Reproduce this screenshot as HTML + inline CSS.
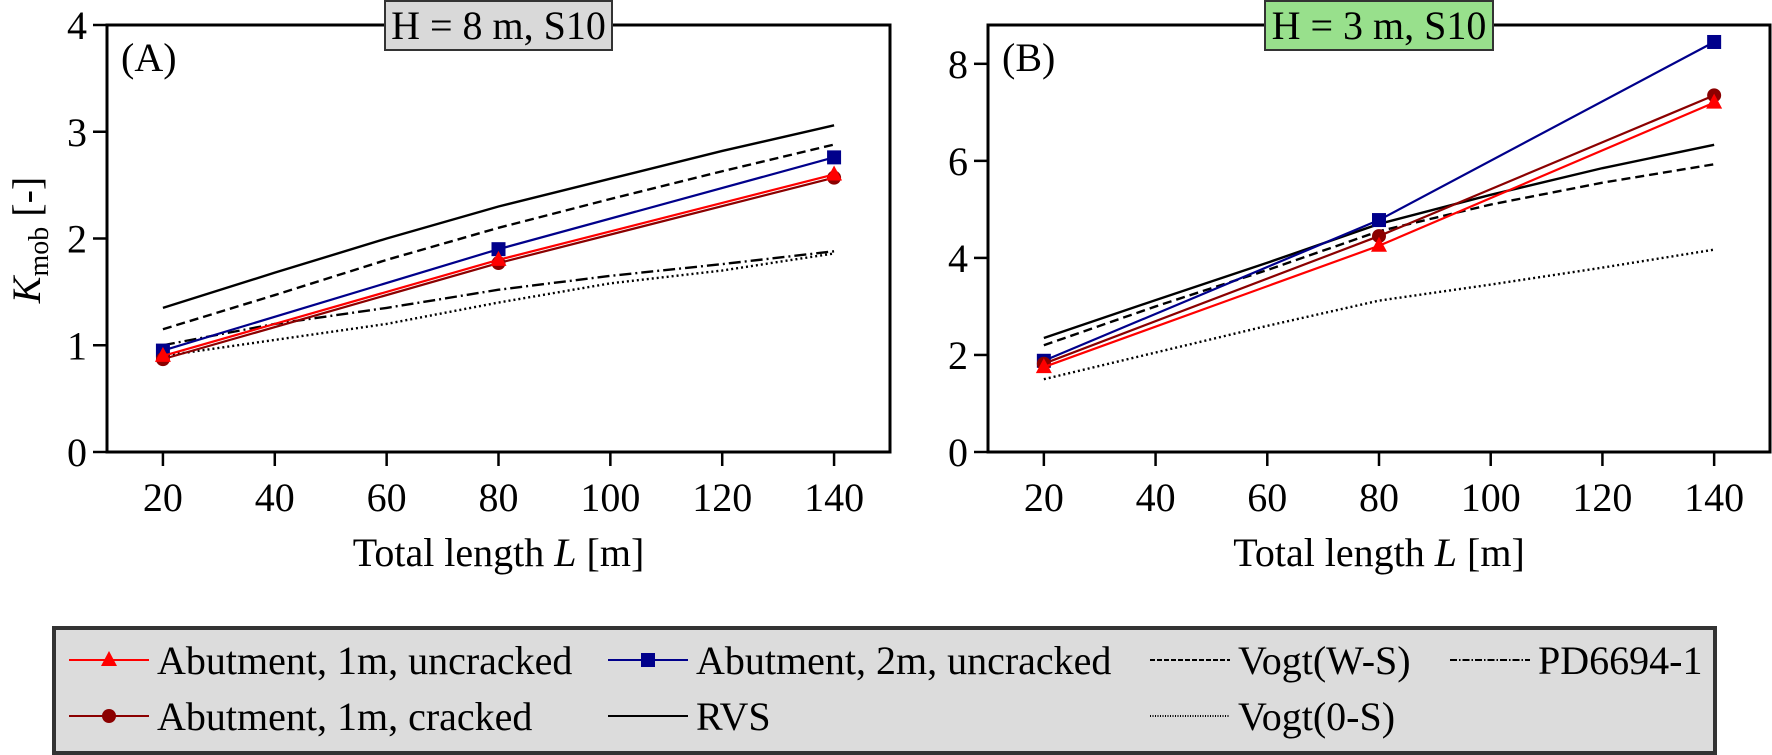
<!DOCTYPE html>
<html><head><meta charset="utf-8">
<style>
html,body{margin:0;padding:0;background:#fff;}
svg, svg text{font-family:"Liberation Serif","Times New Roman",serif;}
svg{display:block;}
</style></head>
<body>
<svg id="chart" width="1772" height="755" viewBox="0 0 1772 755" font-family="Liberation Serif, serif">
<g id="gA"></g>
<g id="gB"></g>
<g id="legend"></g>
</svg>
<script>
const xTicks = [20,40,60,80,100,120,140];
const curveX = [20,40,60,80,100,120,140];
const ptsX = [20,80,140];
const yTicksA = [0,1,2,3,4];
const yTicksB = [0,2,4,6,8];
// Panel A
const A_rvs = [1.35,1.68,2.0,2.3,2.56,2.82,3.06];
const A_vogtWS = [1.15,1.47,1.8,2.1,2.37,2.63,2.88];
const A_pd = [1.0,1.2,1.35,1.52,1.65,1.76,1.88];
const A_vogt0S = [0.9,1.05,1.2,1.4,1.58,1.7,1.86];
const A_ab1u = [0.9,1.8,2.6];
const A_ab1c = [0.87,1.77,2.57];
const A_ab2u = [0.95,1.9,2.76];
// Panel B
const B_rvs = [2.35,3.13,3.9,4.7,5.3,5.85,6.33];
const B_vogtWS = [2.2,3.0,3.75,4.55,5.1,5.55,5.93];
const B_vogt0S = [1.5,2.05,2.6,3.12,3.45,3.8,4.17];
const B_ab1u = [1.75,4.25,7.2];
const B_ab1c = [1.82,4.45,7.35];
const B_ab2u = [1.88,4.78,8.45];

const NS="http://www.w3.org/2000/svg";
const FF='Liberation Serif, serif';
const FS=40;
function mk(tag, attrs, parent){const e=document.createElementNS(NS,tag);for(const k in attrs)e.setAttribute(k,attrs[k]);if(tag==='text')e.setAttribute('font-family',FF);parent.appendChild(e);return e;}

function panel(g, cfg){
  const sx = v => cfg.x0 + (v-10)/(140)*(cfg.x1-cfg.x0);
  const sy = v => cfg.yb - (v-cfg.ymin)/(cfg.ymax-cfg.ymin)*(cfg.yb-cfg.yt);
  const clip = mk('clipPath',{id:cfg.id+'clip'},g);
  mk('rect',{x:cfg.x0,y:cfg.yt,width:cfg.x1-cfg.x0,height:cfg.yb-cfg.yt},clip);
  const plot = mk('g',{'clip-path':'url(#'+cfg.id+'clip)'},g);
  
  
  function line(xs, ys, color, dash, w, name){
    const p = mk('polyline',{points:xs.map((x,i)=>sx(x)+','+sy(ys[i])).join(' '),fill:'none',stroke:color,'stroke-width':w},plot);
    if(dash) p.setAttribute('stroke-dasharray',dash);
    
    
  }
  cfg.curves.forEach(c=>line(curveX,c.v,'#000',c.dash,2.4,c.name));
  cfg.pts.forEach(c=>{
    line(ptsX,c.v,c.color,null,2.2,c.name);
    ptsX.forEach((x,i)=>{
      const cx=sx(x), cy=sy(c.v[i]); let m;
      if(c.marker==='tri') m=mk('polygon',{points:`${cx},${cy-9} ${cx-8},${cy+6} ${cx+8},${cy+6}`,fill:c.color},plot);
      else if(c.marker==='sq') m=mk('rect',{x:cx-7,y:cy-7,width:14,height:14,fill:c.color},plot);
      else m=mk('circle',{cx:cx,cy:cy,r:7,fill:c.color},plot);
      
      
    });
  });
  const frame = mk('rect',{x:cfg.x0,y:cfg.yt,width:cfg.x1-cfg.x0,height:cfg.yb-cfg.yt,fill:'none',stroke:'#000','stroke-width':3},g);
  
  
  xTicks.forEach(t=>{
    mk('line',{x1:sx(t),x2:sx(t),y1:cfg.yb,y2:cfg.yb+14,stroke:'#000','stroke-width':2.5},g);
    const tx = mk('text',{x:sx(t),y:cfg.yb+59,'text-anchor':'middle','font-size':FS},g);
    tx.textContent=t;
    
    
  });
  cfg.yTicks.forEach(t=>{
    mk('line',{x1:cfg.x0-14,x2:cfg.x0,y1:sy(t),y2:sy(t),stroke:'#000','stroke-width':2.5},g);
    const tx = mk('text',{x:cfg.x0-20,y:sy(t)+14,'text-anchor':'end','font-size':FS},g);
    tx.textContent=t;
    
    
  });
  const xl = mk('text',{x:(cfg.x0+cfg.x1)/2,y:566,'text-anchor':'middle','font-size':FS},g);
  xl.innerHTML='Total length <tspan font-style="italic">L</tspan> [m]';
  
  
  const pl = mk('text',{x:cfg.x0+14,y:71,'font-size':FS},g);
  pl.textContent=cfg.label;
  
  
  const tb = mk('rect',{x:cfg.tx0,y:1,width:cfg.tx1-cfg.tx0,height:49,fill:cfg.tcol,stroke:'#333','stroke-width':2},g);
  
  
  const tt = mk('text',{x:(cfg.tx0+cfg.tx1)/2,y:39,'text-anchor':'middle','font-size':FS},g);
  tt.textContent=cfg.title;
  
  
}

panel(document.getElementById('gA'),{id:'A',x0:107,x1:890,yt:25,yb:452,ymin:0,ymax:4,yTicks:yTicksA,label:'(A)',title:'H = 8 m, S10',tx0:385,tx1:612,tcol:'#d9d9d9',
  curves:[{v:A_rvs,dash:null,name:'rvs-line'},{v:A_vogtWS,dash:'9 5',name:'vogt-ws-line'},{v:A_pd,dash:'12 4 2 4',name:'pd6694-line'},{v:A_vogt0S,dash:'2 3',name:'vogt-0s-line'}],
  pts:[{v:A_ab2u,color:'#00008b',marker:'sq',name:'abutment-2m-uncracked'},{v:A_ab1c,color:'#8b0000',marker:'ci',name:'abutment-1m-cracked'},{v:A_ab1u,color:'#ff0000',marker:'tri',name:'abutment-1m-uncracked'}]});
panel(document.getElementById('gB'),{id:'B',x0:988,x1:1770,yt:25,yb:452,ymin:0,ymax:8.8,yTicks:yTicksB,label:'(B)',title:'H = 3 m, S10',tx0:1265,tx1:1493,tcol:'#98e08c',
  curves:[{v:B_rvs,dash:null,name:'rvs-line'},{v:B_vogtWS,dash:'9 5',name:'vogt-ws-line'},{v:B_vogt0S,dash:'2 3',name:'vogt-0s-line'}],
  pts:[{v:B_ab2u,color:'#00008b',marker:'sq',name:'abutment-2m-uncracked'},{v:B_ab1c,color:'#8b0000',marker:'ci',name:'abutment-1m-cracked'},{v:B_ab1u,color:'#ff0000',marker:'tri',name:'abutment-1m-uncracked'}]});

// y-axis title
const svg=document.getElementById('chart');
const yt=mk('text',{transform:'translate(40,240) rotate(-90)','text-anchor':'middle','font-size':FS},svg);
yt.innerHTML='<tspan font-style="italic">K</tspan><tspan font-size="28" dy="8">mob</tspan><tspan dy="-8"> [-]</tspan>';



// legend
const lg=document.getElementById('legend');
const lb=mk('rect',{x:54,y:628,width:1661,height:125,fill:'#dcdcdc',stroke:'#333','stroke-width':4},lg);


const entries=[
 {x:69,y:660,c:'#ff0000',d:null,m:'tri',t:'Abutment, 1m, uncracked',n:'legend-abutment-1m-uncracked'},
 {x:69,y:716,c:'#8b0000',d:null,m:'ci',t:'Abutment, 1m, cracked',n:'legend-abutment-1m-cracked'},
 {x:608,y:660,c:'#00008b',d:null,m:'sq',t:'Abutment, 2m, uncracked',n:'legend-abutment-2m-uncracked'},
 {x:608,y:716,c:'#000',d:null,m:null,t:'RVS',n:'legend-rvs'},
 {x:1150,y:660,c:'#000',d:'5 2',m:null,t:'Vogt(W-S)',n:'legend-vogt-ws'},
 {x:1150,y:716,c:'#000',d:'1 1.5',m:null,t:'Vogt(0-S)',n:'legend-vogt-0s'},
 {x:1450,y:660,c:'#000',d:'7 2 1.5 2',m:null,t:'PD6694-1',n:'legend-pd6694'}];
entries.forEach(e=>{
  const g=mk('g',{},lg);
  
  
  const ln=mk('line',{x1:e.x,x2:e.x+80,y1:e.y,y2:e.y,stroke:e.c,'stroke-width':2},g);
  if(e.d) ln.setAttribute('stroke-dasharray',e.d);
  const cx=e.x+40;
  if(e.m==='tri') mk('polygon',{points:`${cx},${e.y-9} ${cx-8},${e.y+6} ${cx+8},${e.y+6}`,fill:e.c},g);
  if(e.m==='sq') mk('rect',{x:cx-7,y:e.y-7,width:14,height:14,fill:e.c},g);
  if(e.m==='ci') mk('circle',{cx:cx,cy:e.y,r:7,fill:e.c},g);
  const tx=mk('text',{x:e.x+88,y:e.y+14,'font-size':FS},g);
  tx.textContent=e.t;
});
</script>
</body></html>
